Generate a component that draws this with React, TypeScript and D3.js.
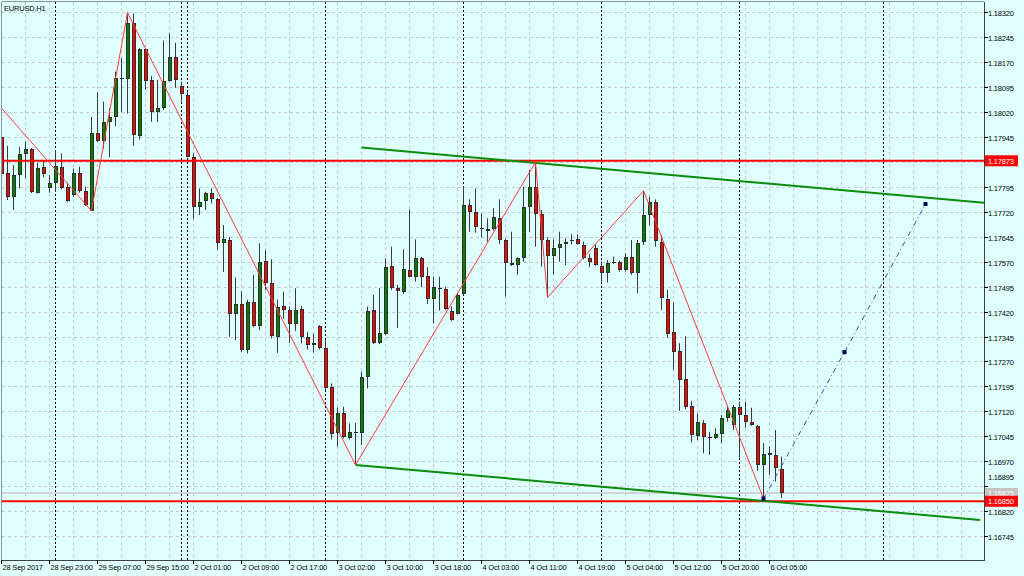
import React from "react";
import * as d3 from "d3";

// ---------- data ----------
const symbolTitle = "EURUSD,H1";

const opens = [
  1.17944, 1.17835, 1.17765, 1.1783, 1.17892, 1.17907, 1.17777, 1.17855, 1.1779, 1.17805,
  1.17855, 1.17793, 1.1777, 1.17835, 1.17783, 1.17723, 1.17955, 1.17933, 1.17988, 1.18005,
  1.18118, 1.18119, 1.18288, 1.17947, 1.18208, 1.18116, 1.18021, 1.18031, 1.18114, 1.18184,
  1.18098, 1.18071, 1.17885, 1.17735, 1.17751, 1.17775, 1.17758, 1.17625, 1.17635, 1.17414,
  1.17442, 1.17304, 1.17448, 1.17377, 1.17573, 1.17507, 1.17344, 1.17437, 1.17425, 1.17382,
  1.17427, 1.17344, 1.17319, 1.17376, 1.17309, 1.17194, 1.17054, 1.17116, 1.17039, 1.17059,
  1.17056, 1.17222, 1.17425, 1.17324, 1.17354, 1.17558, 1.1749, 1.17478, 1.17545, 1.17525,
  1.1758, 1.17527, 1.17458, 1.17488, 1.17487, 1.17423, 1.17414, 1.17473, 1.1774, 1.1772,
  1.17672, 1.17668, 1.17667, 1.177, 1.17635, 1.17565, 1.1756, 1.1758, 1.17735, 1.17795,
  1.17713, 1.17635, 1.17587, 1.1761, 1.17622, 1.17632, 1.17637, 1.1762, 1.1758, 1.1761,
  1.17557, 1.17537, 1.17565, 1.17568, 1.17545, 1.17585, 1.17535, 1.1763, 1.1771, 1.1775,
  1.17628, 1.17457, 1.17359, 1.17301, 1.17216, 1.17137, 1.17047, 1.17084, 1.17044, 1.17039,
  1.17051, 1.17099, 1.17079, 1.17134, 1.17109, 1.17087, 1.17077, 1.16959, 1.16994, 1.16989,
  1.16947,
];
const highs = [
  1.1795, 1.17918, 1.1786, 1.17915, 1.1793, 1.17911, 1.17867, 1.17875, 1.1783, 1.17905,
  1.17895, 1.17807, 1.1785, 1.17855, 1.17795, 1.18005, 1.18078, 1.18051, 1.18031, 1.18141,
  1.18181, 1.18318, 1.18316, 1.18211, 1.18211, 1.18128, 1.18116, 1.18234, 1.18256, 1.18227,
  1.18111, 1.18081, 1.17896, 1.1779, 1.1778, 1.1779, 1.17761, 1.1768, 1.17644, 1.17522,
  1.1748, 1.17455, 1.1753, 1.17625, 1.17605, 1.17577, 1.17455, 1.1748, 1.17435, 1.1749,
  1.17437, 1.17359, 1.17354, 1.17379, 1.17336, 1.17204, 1.17132, 1.17134, 1.17084, 1.17086,
  1.17239, 1.17435, 1.1747, 1.1749, 1.1758, 1.17615, 1.175, 1.17607, 1.17727, 1.17637,
  1.17584, 1.17553, 1.17525, 1.17525, 1.17495, 1.17435, 1.17475, 1.17797, 1.17757, 1.1779,
  1.17715, 1.177, 1.1773, 1.17757, 1.17638, 1.1766, 1.17583, 1.17795, 1.17845, 1.17869,
  1.17725, 1.17643, 1.17637, 1.1766, 1.1764, 1.17652, 1.17652, 1.1763, 1.17593, 1.1762,
  1.1757, 1.17575, 1.17585, 1.17573, 1.17595, 1.17635, 1.17635, 1.17783, 1.17765, 1.17757,
  1.1765, 1.17485, 1.17448, 1.17325, 1.17346, 1.17151, 1.17114, 1.17094, 1.17059, 1.17069,
  1.17109, 1.17137, 1.17139, 1.17149, 1.17149, 1.17131, 1.17079, 1.17025, 1.17014, 1.17064,
  1.16984,
];
const lows = [
  1.17827, 1.17755, 1.17725, 1.1779, 1.1782, 1.17776, 1.17775, 1.17824, 1.17777, 1.1778,
  1.17787, 1.17749, 1.17765, 1.17777, 1.17737, 1.17722, 1.1793, 1.1791, 1.17885, 1.17977,
  1.18019, 1.18015, 1.17918, 1.17937, 1.18086, 1.1799, 1.1799, 1.18026, 1.18111, 1.18092,
  1.18051, 1.17884, 1.17697, 1.1771, 1.17725, 1.17745, 1.17605, 1.17539, 1.17344, 1.17334,
  1.17299, 1.17294, 1.17373, 1.17364, 1.17485, 1.17339, 1.17296, 1.17399, 1.17326, 1.17362,
  1.17324, 1.17306, 1.17296, 1.17306, 1.17184, 1.17036, 1.17014, 1.17039, 1.17036, 1.16959,
  1.17019, 1.17189, 1.17322, 1.17322, 1.17349, 1.17485, 1.1737, 1.17473, 1.17523, 1.1751,
  1.17493, 1.17443, 1.17384, 1.17423, 1.17425, 1.17392, 1.17412, 1.1747, 1.1766, 1.17657,
  1.17643, 1.1763, 1.17663, 1.17623, 1.17465, 1.17557, 1.1753, 1.1757, 1.1766, 1.17615,
  1.17555, 1.17462, 1.1753, 1.1757, 1.1756, 1.17622, 1.17621, 1.17577, 1.17553, 1.17557,
  1.17507, 1.17507, 1.17563, 1.1754, 1.1754, 1.1753, 1.17475, 1.1762, 1.1768, 1.17615,
  1.17425, 1.17341, 1.17244, 1.17121, 1.17127, 1.17027, 1.17034, 1.16994, 1.16989, 1.17037,
  1.17024, 1.17089, 1.17064, 1.16981, 1.17071, 1.17077, 1.16941, 1.16858, 1.16929, 1.16909,
  1.1686,
];
const closes = [
  1.17833, 1.17763, 1.1783, 1.17893, 1.17907, 1.17779, 1.1785, 1.17833, 1.17807, 1.17857,
  1.1779, 1.17751, 1.17837, 1.17783, 1.1774, 1.17955, 1.17933, 1.1799, 1.18005, 1.18121,
  1.18121, 1.18288, 1.1795, 1.18208, 1.18114, 1.18021, 1.18031, 1.18113, 1.18186, 1.18116,
  1.18074, 1.17885, 1.17735, 1.1775, 1.17775, 1.17759, 1.17625, 1.17638, 1.17414, 1.17442,
  1.17304, 1.1745, 1.17377, 1.1757, 1.17507, 1.17347, 1.17435, 1.17425, 1.17382, 1.17425,
  1.17344, 1.17319, 1.17326, 1.17309, 1.17189, 1.17051, 1.17116, 1.17044, 1.17059, 1.17054,
  1.17222, 1.17423, 1.17324, 1.17357, 1.17555, 1.1749, 1.17482, 1.17548, 1.17525, 1.1758,
  1.17525, 1.17457, 1.17495, 1.17492, 1.17427, 1.17394, 1.1747, 1.1774, 1.17718, 1.17673,
  1.17668, 1.17663, 1.17703, 1.17635, 1.17565, 1.1756, 1.1758, 1.17735, 1.17795, 1.17713,
  1.17635, 1.17587, 1.17612, 1.17622, 1.1763, 1.17635, 1.17623, 1.1758, 1.1757, 1.1756,
  1.17537, 1.17565, 1.1757, 1.17545, 1.17585, 1.17535, 1.17627, 1.1771, 1.1775, 1.17633,
  1.1746, 1.17354, 1.17299, 1.17214, 1.17134, 1.17049, 1.17087, 1.17044, 1.17041, 1.17052,
  1.17099, 1.17124, 1.17134, 1.17109, 1.17087, 1.17079, 1.16959, 1.16991, 1.16989, 1.16949,
  1.16875,
];

const timeLabels = [
  "28 Sep 2017", "28 Sep 23:00", "29 Sep 07:00", "29 Sep 15:00", "2 Oct 01:00",
  "2 Oct 09:00", "2 Oct 17:00", "3 Oct 02:00", "3 Oct 10:00", "3 Oct 18:00",
  "4 Oct 03:00", "4 Oct 11:00", "4 Oct 19:00", "5 Oct 04:00", "5 Oct 12:00",
  "5 Oct 20:00", "6 Oct 05:00",
];
const timeLabelBars = [0, 8, 16, 24, 32, 40, 48, 56, 64, 72, 80, 88, 96, 104, 112, 120, 128];

const priceTicks = [
  "1.18320", "1.18245", "1.18170", "1.18095", "1.18020", "1.17945", "1.17870", "1.17795",
  "1.17720", "1.17645", "1.17570", "1.17495", "1.17420", "1.17345", "1.17270", "1.17195",
  "1.17120", "1.17045", "1.16970", "1.16895", "1.16820", "1.16745",
];

const separatorBars = [9, 30, 31, 54, 77, 100, 123, 147];

const levelPrices = [1.17873, 1.1685];
const levelLabels = ["1.17873", "1.16850"];
const bidPrice = 1.16875;
const bidLabel = "1.16875";

const zigzagBars = [-6, 15, 21, 59, 89, 91, 107, 127];
const zigzagPrices = [1.18155, 1.17722, 1.18318, 1.16959, 1.17869, 1.17462, 1.17783, 1.16858];

const projectionBars = [127, 140.5, 154];
const projectionPrices = [1.16858, 1.17298, 1.17743];

const channelUpperBars = [60, 163.75];
const channelUpperPrices = [1.17913, 1.17747];
const channelLowerBars = [59, 163.1];
const channelLowerPrices = [1.16959, 1.16794];

// ---------- layout ----------
const W = 1024;
const H = 576;
const L = 2;
const T = 2;
const R = 984;
const B = 560;
const FONT = "'Liberation Sans', Arial, sans-serif";
const BG = "#e0ffff";

const x = d3.scaleLinear().domain([0, 163.75]).range([1.5, 984]);
const y = d3.scaleLinear().domain([1.16745, 1.1832]).range([536.2, 12]);

export default function App() {
  const line = d3
    .line<[number, number]>()
    .x((d) => x(d[0]))
    .y((d) => y(d[1]));

  const zig = zigzagBars.map((b, i) => [b, zigzagPrices[i]] as [number, number]);
  const proj = projectionBars.map((b, i) => [b, projectionPrices[i]] as [number, number]);
  const up = channelUpperBars.map((b, i) => [b, channelUpperPrices[i]] as [number, number]);
  const lo = channelLowerBars.map((b, i) => [b, channelLowerPrices[i]] as [number, number]);

  const gridBars = d3.range(4, 164, 4);
  const bidY = y(bidPrice);

  return (
    <svg
      width={W}
      height={H}
      style={{ position: "absolute", left: 0, top: 0, display: "block" }}
      fontFamily={FONT}
    >
      <defs>
        <clipPath id="plot">
          <rect x={L} y={T} width={R - L} height={B - T} />
        </clipPath>
      </defs>
      <rect x={0} y={0} width={W} height={H} fill={BG} />

      {/* grid */}
      <g stroke="#c3c8c8" strokeWidth={1} strokeDasharray="3,3" shapeRendering="crispEdges">
        {priceTicks.map((t) => (
          <line key={"h" + t} x1={L} x2={R} y1={Math.round(y(+t)) + 0.5} y2={Math.round(y(+t)) + 0.5} />
        ))}
        {gridBars.map((b) => (
          <line key={"v" + b} x1={Math.floor(x(b)) + 0.5} x2={Math.floor(x(b)) + 0.5} y1={T} y2={B} />
        ))}
      </g>

      {/* period separators */}
      <g stroke="#000" strokeWidth={1} strokeDasharray="2,2" shapeRendering="crispEdges">
        {separatorBars.map((b) => (
          <line key={"s" + b} x1={Math.floor(x(b)) + 0.5} x2={Math.floor(x(b)) + 0.5} y1={T} y2={B} />
        ))}
      </g>

      <g clipPath="url(#plot)">
        {/* bid line */}
        <line x1={L} x2={R} y1={bidY} y2={bidY} stroke="#c8c8c8" strokeWidth={1.5} />

        {/* candles */}
        {opens.map((o, i) => {
          const c = closes[i];
          const cx = x(i);
          const yo = y(o);
          const yc = y(c);
          const top = Math.round(Math.min(yo, yc));
          const bot = Math.round(Math.max(yo, yc));
          const h = Math.max(1, bot - top);
          const bull = c >= o;
          const left = cx - 1.5;
          return (
            <g key={"c" + i}>
              <line x1={cx} x2={cx} y1={y(highs[i])} y2={y(lows[i])} stroke="#3a3a3a" strokeWidth={1} />
              {h <= 2 ? (
                <rect x={left} y={top} width={4} height={h} fill="#2a2a2a" />
              ) : (
                <rect
                  x={left + 0.5}
                  y={top + 0.5}
                  width={3}
                  height={h - 1}
                  fill={bull ? "#008000" : "#ff0000"}
                  stroke="#2e2e2e"
                  strokeWidth={1}
                />
              )}
            </g>
          );
        })}

        {/* horizontal levels */}
        {levelPrices.map((p) => (
          <line key={"l" + p} x1={L} x2={R} y1={y(p)} y2={y(p)} stroke="#ff0000" strokeWidth={2} />
        ))}

        {/* channel */}
        <path d={line(up) || ""} fill="none" stroke="#0b8c0b" strokeWidth={2} />
        <path d={line(lo) || ""} fill="none" stroke="#0b8c0b" strokeWidth={2} />

        {/* zigzag */}
        <path d={line(zig) || ""} fill="none" stroke="#ff3c3c" strokeWidth={1} />

        {/* projection */}
        <path d={line(proj) || ""} fill="none" stroke="#3848b0" strokeWidth={1} strokeDasharray="5,3,1,3" />
        {proj.map((d, i) => (
          <rect key={"p" + i} x={x(d[0]) - 2} y={y(d[1]) - 2} width={4} height={4} fill="#000050" />
        ))}
      </g>

      {/* frame */}
      <g fill="none" shapeRendering="crispEdges">
        <line x1={L - 0.5} x2={R} y1={T - 0.5} y2={T - 0.5} stroke="#8a9696" />
        <line x1={L - 0.5} x2={L - 0.5} y1={T - 0.5} y2={B} stroke="#8a9696" />
        <line x1={R + 0.5} x2={R + 0.5} y1={T - 0.5} y2={B + 0.5} stroke="#404040" />
        <line x1={L - 0.5} x2={R + 0.5} y1={B + 0.5} y2={B + 0.5} stroke="#404040" />
      </g>

      {/* title */}
      <text x={4} y={11} fontSize={7.5} letterSpacing={-0.2} fill="#000">
        {symbolTitle}
      </text>

      {/* price axis */}
      <g fontSize={7.5} letterSpacing={-0.2} fill="#000">
        {priceTicks.map((t) => {
          const ty = Math.round(y(+t)) + 0.5;
          let ly = ty;
          if (+t > bidPrice && ty > bidY - 11) ly = bidY - 16;
          return (
            <g key={"yt" + t}>
              <line x1={R} x2={R + 4} y1={ty} y2={ty} stroke="#000" shapeRendering="crispEdges" />
              <text x={988} y={ly + 3}>
                {t}
              </text>
            </g>
          );
        })}
      </g>

      {/* price boxes */}
      <g fontSize={7.5} letterSpacing={-0.2}>
        <rect x={985} y={bidY - 5} width={33} height={10} fill="#c4c4c4" />
        <text x={988} y={bidY + 3} fill="#fff">
          {bidLabel}
        </text>
        {levelPrices.map((p, i) => (
          <g key={"lb" + i}>
            <rect x={985} y={y(p) - 5.5} width={33} height={11} fill="#ff0000" />
            <text x={988} y={y(p) + 3} fill="#fff">
              {levelLabels[i]}
            </text>
          </g>
        ))}
      </g>

      {/* time axis */}
      <g fontSize={7.5} letterSpacing={-0.2} fill="#000">
        {timeLabelBars.map((b, i) => {
          const tx = Math.floor(x(b)) + 0.5;
          return (
            <g key={"xt" + b}>
              <line x1={tx} x2={tx} y1={B} y2={B + 4} stroke="#000" shapeRendering="crispEdges" />
              <text x={tx + 1} y={570}>
                {timeLabels[i]}
              </text>
            </g>
          );
        })}
      </g>
    </svg>
  );
}
